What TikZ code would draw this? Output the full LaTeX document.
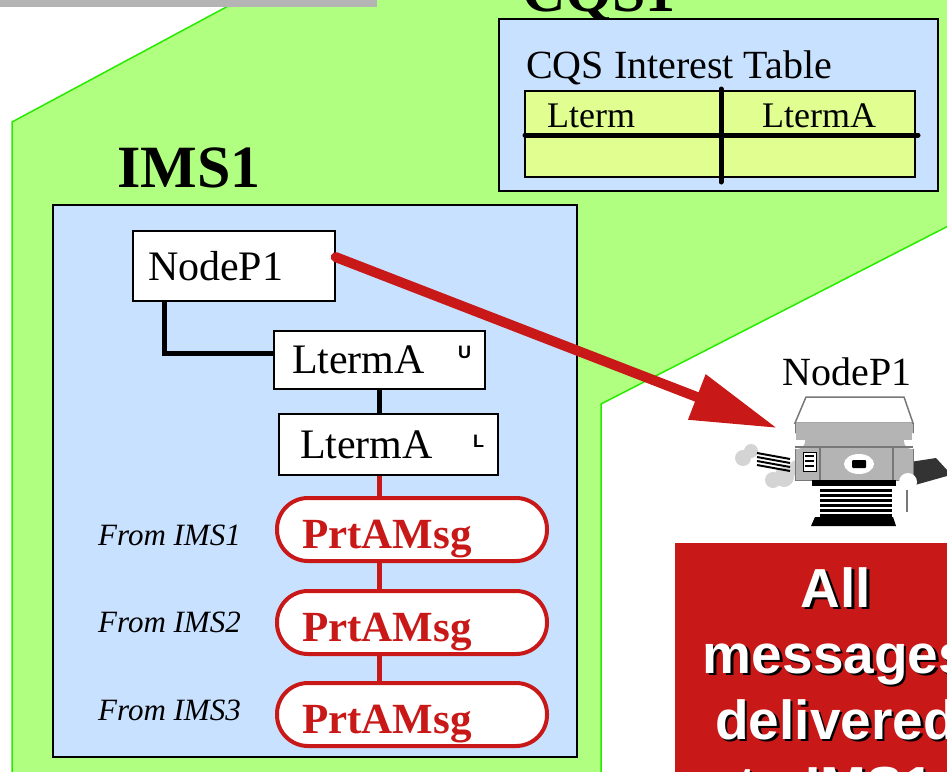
\documentclass[tikz,border=0pt]{standalone}
\usepackage{fontspec}
\setmainfont{Liberation Serif}
\newfontfamily\arialfont{Liberation Sans}
\usetikzlibrary{arrows.meta,positioning}

\definecolor{imsgreen}{RGB}{176,255,128}
\definecolor{edgegreen}{RGB}{40,235,0}
\definecolor{imsblue}{RGB}{200,225,255}
\definecolor{tblyellow}{RGB}{224,255,144}
\definecolor{msgred}{RGB}{200,24,24}
\definecolor{bargray}{RGB}{180,180,180}
\definecolor{cloudgray}{RGB}{212,212,212}
\definecolor{bodygray}{RGB}{180,180,180}
\definecolor{edgegray}{RGB}{120,120,120}

\tikzset{
  termbox/.style={draw, fill=white, line width=1.5pt, align=left, inner ysep=0pt,
    font=\fontsize{42}{42}\selectfont},
  flag/.style={inner sep=0pt, font=\arialfont\bfseries\fontsize{18}{18}\selectfont},
  msgbox/.style={draw=msgred, line width=4pt, fill=white, rounded corners=31pt,
    minimum width=270pt, minimum height=63pt, text width=220pt, inner xsep=25pt,
    text height=38pt, text depth=0pt, align=left, text=msgred,
    font=\bfseries\fontsize{43}{43}\selectfont},
  from/.style={anchor=base west, inner sep=0pt, font=\itshape\fontsize{31}{31}\selectfont},
  cell/.style={anchor=base west, inner sep=0pt, font=\fontsize{36}{36}\selectfont},
  wire/.style={line width=5pt},
  qwire/.style={line width=5pt, draw=msgred},
}

\begin{document}
\begin{tikzpicture}[x=1pt, y=-1pt]
\useasboundingbox (0,0) rectangle (947,771);
\clip (0,0) rectangle (947,771);

% system areas
\fill[imsgreen] (12,800) -- (12,122) -- (245,-3) -- (960,-3) -- (960,220) -- (601,404) -- (601,800) -- cycle;
\draw[edgegreen, line width=1.5pt] (12,800) -- (12,122) -- (245,-3);
\draw[edgegreen, line width=1.5pt] (960,220) -- (601,404) -- (601,800);
\fill[bargray] (-5,-5) rectangle (377,7);

\node[anchor=base west, inner sep=0pt, font=\bfseries\fontsize{60}{60}\selectfont] (cqs) at (522,11) {CQS1};

% interest table
\draw[fill=imsblue, line width=1.5pt] (499,19) rectangle (938,191);
\node[anchor=base west, inner sep=0pt, font=\fontsize{40}{40}\selectfont] (cqstitle) at (526,78) {CQS Interest Table};
\draw[fill=tblyellow, line width=1.2pt] (525,91) rectangle (915,177);
\draw[line width=5pt, line cap=round] (525,135) -- (918,135);
\draw[line width=5pt, line cap=round] (721,89) -- (721,182);
\node[cell] (lterm) at (547,127) {Lterm};
\node[cell] (ltermval) at (762,127) {LtermA};

% IMS1
\draw[fill=imsblue, line width=1.5pt] (53,205) rectangle (577,757);
\node[anchor=base west, inner sep=0pt, font=\bfseries\fontsize{60}{60}\selectfont] (ims) at (117,187) {IMS1};

\node[termbox, text width=172pt, inner xsep=15pt, minimum height=70pt] (np1) at (234,266) {NodeP1};
\node[termbox, text width=175pt, inner xsep=18pt, minimum height=58pt] (lta) at (379.5,360) {LtermA};
\node[flag] (ltaflag) at (464.5,352.5) {U};
\node[termbox, text width=177pt, inner xsep=21pt, minimum height=61pt] (ltl) at (388.5,444.5) {LtermA};
\node[flag] (ltlflag) at (478.5,441) {L};

\node[msgbox] (m1) at (412,529.5) {PrtAMsg};
\node[msgbox, below=26pt of m1] (m2) {PrtAMsg};
\node[msgbox, below=25pt of m2] (m3) {PrtAMsg};
\node[from] (f1) at (98,545) {From IMS1};
\node[from] (f2) at (98,632) {From IMS2};
\node[from] (f3) at (98,720) {From IMS3};

\draw[wire] ([xshift=32pt]np1.south west) |- ([yshift=7pt]lta.west);
\draw[wire] (lta.south) -- (lta.south |- ltl.north);
\draw[qwire] (lta.south |- ltl.south) -- (lta.south |- m1.north);
\draw[qwire] (lta.south |- m1.south) -- (lta.south |- m2.north);
\draw[qwire] (lta.south |- m2.south) -- (lta.south |- m3.north);

% printer
\coordinate (prt) at (777,428);
\draw[msgred, line width=10pt, line cap=round, -{Triangle[length=86pt,width=46pt]}] (np1.5) -- (prt);
\node[anchor=base, inner sep=0pt, font=\fontsize{40}{40}\selectfont] (prtlabel) at (847,385) {NodeP1};

\fill[cloudgray] (743,458) circle (8) (751,451) circle (7) (773,480) circle (8)
  (784,477) circle (10) (797,468) circle (8);
\foreach \k in {0,...,3}
  \draw[line width=2pt] (757,453+4*\k) -- (790,459+4*\k);
\fill[black!80] (910,462) -- (936,458) -- (947,470) -- (947,476) -- (915,485) -- cycle;
\filldraw[fill=bodygray, draw=edgegray, line width=1pt] (795,423) rectangle (913,480);
\fill[white] (797,441) circle (8) (912,441) circle (8);
\draw[edgegray, line width=1.5pt] (795,447) -- (913,447) (820,447) -- (820,480) (893,447) -- (893,480);
\filldraw[fill=white, draw=edgegray, line width=1.5pt] (806,397) -- (904,397) -- (913,423) -- (795,423) -- cycle;
\fill[bodygray] (796,423) rectangle (912,440);
\filldraw[fill=white, draw=black, line width=1pt] (803,452) rectangle (816,471);
\draw[line width=1.5pt] (805,456) -- (814,456) (805,461) -- (814,461) (805,466) -- (814,466);
\fill[white] (859,464) ellipse (15 and 10);
\fill[black, rounded corners=1pt] (852,460) rectangle (866,468);
\fill (812,480) rectangle (896,486);
\foreach \y in {489,494,...,514}
  \fill (820,\y) rectangle (892,\y+3);
\fill (815,517) -- (893,517) -- (896,526) -- (811,526) -- cycle;
\fill[white] (908,482) circle (9);
\draw[edgegray, line width=1.5pt] (907,490) -- (907,512);

% notice
\fill[msgred] (675,543) rectangle (960,780);
\node[anchor=north, align=center, inner sep=0pt, text=black,
  font=\arialfont\bfseries\fontsize{55}{66}\selectfont] (notesh) at (838.5,569.5) {All\\messages\\delivered\\to IMS1};
\node[anchor=north, align=center, inner sep=0pt, text=white,
  font=\arialfont\bfseries\fontsize{55}{66}\selectfont] (note) at (836,567) {All\\messages\\delivered\\to IMS1};
\end{tikzpicture}
\end{document}
